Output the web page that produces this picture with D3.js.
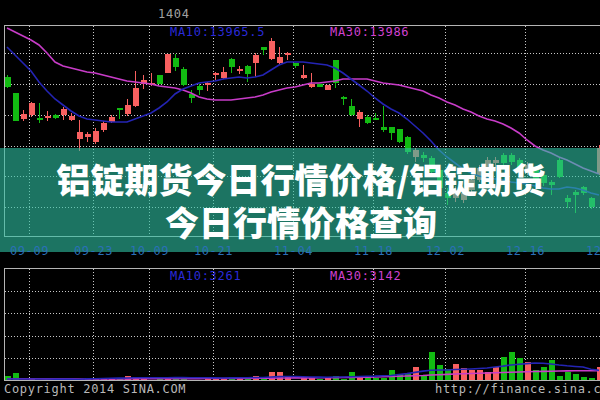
<!DOCTYPE html>
<html><head><meta charset="utf-8">
<script src="https://cdn.jsdelivr.net/npm/d3@7"></script>
<style>html,body{margin:0;padding:0;background:#000;overflow:hidden}</style>
</head><body><svg id="c" width="600" height="400"></svg>
<script>
// ---------- data ----------
const tickLabels = ["09-09","09-23","10-09","10-21","11-04","11-18","12-02","12-16","12-30"];
const tickIndex  = [3, 11, 18, 26, 36, 46, 55, 65, 75];
const priceGrid  = [14588, 14464, 14340, 14216, 14096, 13972];
const volGrid    = [7200, 14400, 21600, 28800];

const open = [14492,14428,14324,14340,14328,14332,14340,14340,14320,14244,
 14252,14232,14280,14312,14368,14344,14376,14464,14460,14500,
 14508,14568,14524,14424,14456,14460,14500,14488,14564,14516,
 14536,14548,14612,14564,14548,14580,14548,14488,14452,14464,
 14440,14560,14412,14376,14324,14332,14328,14292,14292,14284,
 14252,14172,14180,14168,14120,14028,14008,14000,14040,14080,
 14128,14148,14180,14180,14160,14112,14120,14100,14072,14160,
 14008,14032,14052,14008,14108];
const close = [14452,14316,14344,14388,14320,14336,14328,14364,14336,14272,
 14264,14276,14308,14332,14360,14380,14448,14480,14468,14464,
 14584,14532,14460,14408,14440,14468,14508,14512,14532,14524,
 14504,14580,14600,14636,14572,14588,14536,14500,14464,14452,
 14460,14468,14404,14340,14352,14308,14324,14280,14268,14232,
 14192,14200,14168,14112,14048,14008,14040,14028,14080,14128,
 14160,14160,14148,14152,14120,14140,14080,14068,14060,14092,
 13992,14020,14028,13972,14208];
const high = [14500,14428,14360,14392,14388,14356,14344,14372,14348,14320,
 14272,14288,14316,14340,14368,14404,14516,14500,14508,14500,
 14584,14584,14532,14440,14464,14472,14512,14532,14568,14536,
 14540,14588,14612,14648,14612,14592,14548,14540,14508,14464,
 14460,14560,14416,14404,14360,14340,14348,14376,14292,14284,
 14256,14208,14192,14176,14128,14048,14056,14048,14096,14140,
 14172,14172,14188,14188,14168,14152,14128,14112,14080,14168,
 14020,14040,14056,14012,14220];
const low = [14448,14316,14316,14332,14308,14316,14324,14320,14316,14196,
 14232,14224,14272,14308,14324,14336,14372,14444,14456,14464,
 14508,14516,14456,14388,14420,14436,14480,14484,14508,14504,
 14472,14492,14580,14560,14540,14560,14528,14484,14448,14452,
 14440,14448,14380,14336,14292,14304,14320,14272,14240,14228,
 14184,14152,14152,14100,14040,13980,13992,13988,14032,14072,
 14120,14128,14140,14140,14112,14100,14068,14056,14020,14088,
 13968,13948,14020,13964,14100];
const ma10 = [14612,14580,14548,14516,14472,14436,14404,14380,14356,14336,
 14324,14320,14316,14312,14312,14312,14324,14336,14348,14368,
 14392,14424,14444,14456,14468,14472,14476,14484,14488,14492,
 14488,14492,14500,14520,14540,14552,14552,14552,14548,14544,
 14540,14528,14508,14484,14460,14436,14408,14384,14364,14348,
 14324,14296,14268,14236,14200,14172,14148,14124,14108,14096,
 14088,14084,14080,14072,14068,14064,14056,14048,14044,14044,
 14052,14048,14040,14028,14020];
const ma30 = [14688,14672,14656,14640,14620,14588,14552,14536,14528,14520,
 14512,14508,14500,14492,14484,14476,14472,14468,14464,14456,
 14452,14448,14440,14428,14412,14404,14400,14400,14400,14404,
 14408,14412,14420,14432,14440,14448,14452,14460,14468,14468,
 14472,14476,14484,14484,14484,14484,14476,14468,14464,14460,
 14452,14444,14436,14420,14408,14392,14380,14364,14352,14336,
 14324,14316,14304,14288,14268,14240,14216,14200,14188,14172,
 14160,14144,14128,14116,14104];
const volume = [1440,2400,300,350,280,320,300,260,340,380,
 800,800,800,800,800,1440,1120,800,320,800,
 1120,1120,1120,320,320,800,800,800,1120,1120,
 800,1440,800,2720,2720,1120,160,800,800,640,
 800,1440,640,2720,1440,1440,800,800,3360,2080,
 2080,4320,1440,9120,4960,3680,5280,4000,3360,3360,
 2720,4320,7520,9120,7200,5920,3360,4320,6560,1440,
 2720,2080,1120,800,4320];
const volMa10 = [480,480,500,500,480,460,450,440,430,420,
 520,580,640,700,760,820,880,900,900,880,
 900,920,940,900,880,860,840,820,840,860,
 880,940,960,1100,1240,1300,1280,1200,1120,1080,
 1040,1100,1120,1200,1280,1360,1400,1520,1600,1900,
 2200,2600,3000,3300,3350,3360,3500,3600,3700,3850,
 4000,4320,4600,4960,5200,5400,5600,5500,5300,4960,
 4700,4500,4320,3600,3261];
const volMa30 = [560,560,550,540,540,530,520,520,510,500,
 500,500,510,520,520,530,540,560,560,570,
 580,590,600,600,610,620,630,640,650,660,
 680,700,720,760,800,820,830,840,850,860,
 880,900,940,1000,1040,1080,1120,1180,1260,1340,
 1420,1520,1600,1760,1860,1960,2060,2160,2260,2340,
 2400,2480,2560,2640,2720,2800,2860,2920,2980,3040,
 3080,3100,3120,3130,3142];
const priceLabels = ["MA10:13965.5", "MA30:13986"];
const volLabels   = ["MA10:3261", "MA30:3142"];
const titleText = "1404";
const bannerLines = ["铝锭期货今日行情价格/铝锭期货", "今日行情价格查询"];

// ---------- chart ----------
const RED = "#f86060", GREEN = "#12bb12", BLUE = "#2424b4", MAG = "#c83cc8";
const MONO = "'DejaVu Sans Mono', 'Liberation Mono', monospace";
const svg = d3.select("#c");
svg.append("rect").attr("width",600).attr("height",400).attr("fill","#000");

const idx = d3.range(open.length);
const x = d3.scaleLinear().domain([0, 74]).range([7, 599]);
const yP = d3.scaleLinear().domain([13852, 14700]).range([237, 25]);
const yV = d3.scaleLinear().domain([0, 36000]).range([380.5, 268]);

const defs = svg.append("defs");
defs.append("clipPath").attr("id","cp").append("rect").attr("x",4).attr("y",25).attr("width",600).attr("height",212);
defs.append("clipPath").attr("id","cv").append("rect").attr("x",4).attr("y",268).attr("width",600).attr("height",113);

const gridStyle = s => s.attr("stroke","#c8c8c8").attr("stroke-width",1).attr("stroke-dasharray","1,2").attr("shape-rendering","crispEdges");

// price panel grid
const gp = svg.append("g");
gp.selectAll("line.h").data(priceGrid).join("line").attr("class","h")
  .attr("x1",5).attr("x2",600).attr("y1",d=>Math.round(yP(d))+0.5).attr("y2",d=>Math.round(yP(d))+0.5).call(gridStyle);
gp.selectAll("line.v").data(tickIndex).join("line").attr("class","v")
  .attr("x1",d=>Math.round(x(d))-1.5).attr("x2",d=>Math.round(x(d))-1.5).attr("y1",26).attr("y2",237).call(gridStyle);

// candles
const gc = svg.append("g").attr("clip-path","url(#cp)").attr("shape-rendering","crispEdges");
const col = i => close[i] >= open[i] ? RED : GREEN;
gc.selectAll("line.w").data(idx).join("line").attr("class","w")
  .attr("x1",i=>x(i)+0.5).attr("x2",i=>x(i)+0.5)
  .attr("y1",i=>yP(high[i])).attr("y2",i=>yP(low[i]))
  .attr("stroke",col).attr("stroke-width",1);
gc.selectAll("rect.b").data(idx).join("rect").attr("class","b")
  .attr("x",i=>x(i)-2.5).attr("width",6)
  .attr("y",i=>Math.round(yP(Math.max(open[i],close[i]))))
  .attr("height",i=>Math.max(1.5, Math.round(Math.abs(yP(open[i])-yP(close[i])))))
  .attr("fill",col);

// MA lines
const lineP = arr => d3.line().x((d,i)=>x(i)).y(d=>yP(d))(arr);
const gl = svg.append("g").attr("clip-path","url(#cp)");
gl.append("path").attr("d",lineP(ma30)).attr("fill","none").attr("stroke",MAG).attr("stroke-width",1.6);
gl.append("path").attr("d",lineP(ma10)).attr("fill","none").attr("stroke",BLUE).attr("stroke-width",1.6);

// volume panel
const gv = svg.append("g");
gv.selectAll("line.h").data(volGrid).join("line").attr("class","h")
  .attr("x1",5).attr("x2",600).attr("y1",d=>Math.round(yV(d))+0.5).attr("y2",d=>Math.round(yV(d))+0.5).call(gridStyle);
gv.selectAll("line.v").data(tickIndex).join("line").attr("class","v")
  .attr("x1",d=>Math.round(x(d))-1.5).attr("x2",d=>Math.round(x(d))-1.5).attr("y1",269).attr("y2",380).call(gridStyle);
const gvb = svg.append("g").attr("clip-path","url(#cv)").attr("shape-rendering","crispEdges");
gvb.selectAll("rect").data(idx).join("rect")
  .attr("x",i=>x(i)-2.5).attr("width",6)
  .attr("y",i=>yV(volume[i])).attr("height",i=>yV(0)-yV(volume[i]))
  .attr("fill",col);
const lineV = arr => d3.line().x((d,i)=>x(i)).y(d=>yV(d))(arr);
const gvl = svg.append("g").attr("clip-path","url(#cv)");
gvl.append("path").attr("d",lineV(volMa30)).attr("fill","none").attr("stroke",MAG).attr("stroke-width",1.6);
gvl.append("path").attr("d",lineV(volMa10)).attr("fill","none").attr("stroke",BLUE).attr("stroke-width",1.6);

// borders
const border = svg.append("g").attr("stroke","#b4b4b4").attr("fill","none").attr("shape-rendering","crispEdges");
border.append("path").attr("d","M600,25.5H4.5V236.5H600");
border.append("path").attr("d","M600,268.5H4.5V380.5H600");

// MA labels
const lab = (t, xx, yy, c) => svg.append("text").attr("x",xx).attr("y",yy).text(t)
  .attr("font-family",MONO).attr("font-size",12).attr("letter-spacing",0.7).attr("fill",c);
lab(priceLabels[0], 170, 36, "#2a2ad8");
lab(priceLabels[1], 330, 36, "#d040d0");
lab(volLabels[0], 170, 280, "#2a2ad8");
lab(volLabels[1], 330, 280, "#d040d0");
lab(titleText, 158, 18, "#a0a0a0");
lab("Copyright 2014 SINA.COM", 4, 393, "#b8b8b8");
lab("http://finance.sina.com.cn", 435, 393, "#b8b8b8");

// banner
svg.append("rect").attr("x",0).attr("y",148).attr("width",600).attr("height",104)
  .attr("fill","#2fc1a3").attr("fill-opacity",0.6);
svg.selectAll("text.bn").data(bannerLines).join("text").attr("class","bn")
  .attr("x",301).attr("y",(d,i)=>178 + i*43)
  .attr("text-anchor","middle").attr("dominant-baseline","central")
  .attr("font-family","'Noto Sans CJK SC', sans-serif").attr("font-weight",900)
  .attr("font-size",34).attr("fill","#fff").text(d=>d);

// date labels
svg.selectAll("text.dt").data(tickLabels).join("text").attr("class","dt")
  .attr("x",(d,i)=>x(tickIndex[i])-1.5).attr("y",255)
  .attr("text-anchor","middle").attr("font-family",MONO).attr("font-size",12)
  .attr("letter-spacing",0.6).attr("fill","#2a70b8").text(d=>d);
</script></body></html>
